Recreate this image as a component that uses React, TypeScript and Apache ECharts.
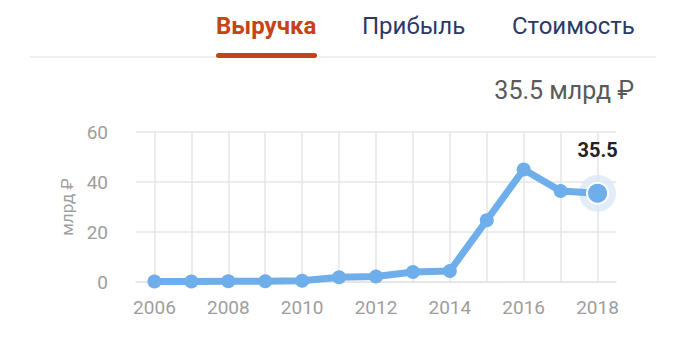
import React, { useEffect, useRef } from "react";
import * as echarts from "echarts";

const years = ["2006", "2007", "2008", "2009", "2010", "2011", "2012", "2013", "2014", "2015", "2016", "2017", "2018"];
const revenue = [0.2, 0.2, 0.3, 0.3, 0.5, 1.9, 2.2, 4.0, 4.4, 24.7, 45.0, 36.4, 35.5];
const tabs = ["Выручка", "Прибыль", "Стоимость"];
const yTicks = [0, 20, 40, 60];
const unit = "млрд ₽";

const FONT = "Roboto, 'Noto Sans', sans-serif";
const LINE_COLOR = "#6eaeea";

export default function App() {
  const ref = useRef<HTMLDivElement>(null);

  useEffect(() => {
    if (!ref.current) return;
    const chart = echarts.init(ref.current, null, { renderer: "svg" });
    const lastIdx = revenue.length - 1;
    const lastVal = revenue[lastIdx];

    chart.setOption({
      animation: false,
      backgroundColor: "#ffffff",
      textStyle: { fontFamily: FONT },
      grid: { left: 136, right: 64, top: 132, bottom: 76 },
      graphic: [
        {
          type: "text",
          left: 216,
          top: 14,
          style: { text: tabs[0], font: `bold 24px ${FONT}`, fill: "#c6421b" },
        },
        {
          type: "text",
          left: 362,
          top: 14,
          style: { text: tabs[1], font: `24px ${FONT}`, fill: "#2c3967" },
        },
        {
          type: "text",
          left: 512,
          top: 14,
          style: { text: tabs[2], font: `24px ${FONT}`, fill: "#2c3967" },
        },
        {
          type: "rect",
          shape: { x: 30, y: 56, width: 626, height: 2 },
          style: { fill: "#efefef" },
          z: 1,
        },
        {
          type: "rect",
          shape: { x: 216, y: 53, width: 101, height: 5, r: 2.5 },
          style: { fill: "#c6421b" },
          z: 2,
        },
        {
          type: "text",
          right: 46,
          top: 78,
          style: { text: `${lastVal} ${unit}`, font: `25px ${FONT}`, fill: "#5a5a5a" },
        },
      ],
      xAxis: {
        type: "category",
        data: years,
        boundaryGap: true,
        axisLine: { show: true, lineStyle: { color: "#e3e3e3", width: 1.5 } },
        axisTick: { show: false },
        axisLabel: {
          interval: 1,
          color: "#9e9e9e",
          fontSize: 19,
          fontFamily: FONT,
          margin: 16,
        },
        splitLine: {
          show: true,
          alignWithLabel: true,
          interval: 0,
          lineStyle: { color: "#e6e6e6", width: 1.5 },
        },
      },
      yAxis: {
        type: "value",
        min: yTicks[0],
        max: yTicks[yTicks.length - 1],
        interval: 20,
        name: unit,
        nameLocation: "middle",
        nameGap: 58,
        nameTextStyle: { color: "#9e9e9e", fontSize: 17, fontFamily: FONT },
        axisLine: { show: false },
        axisTick: { show: false },
        axisLabel: { color: "#9e9e9e", fontSize: 19, fontFamily: FONT, margin: 28 },
        splitLine: { show: true, lineStyle: { color: "#e6e6e6", width: 1.5 } },
      },
      series: [
        {
          type: "scatter",
          data: [[years[lastIdx], lastVal]],
          symbolSize: 37,
          itemStyle: { color: "#dce9f7" },
          z: 1,
          silent: true,
        },
        {
          type: "line",
          data: revenue.map((v, i) =>
            i === lastIdx
              ? {
                  value: v,
                  symbolSize: 21,
                  itemStyle: { color: LINE_COLOR, borderColor: "#ffffff", borderWidth: 2 },
                  label: {
                    show: true,
                    position: "top",
                    distance: 22,
                    formatter: String(v),
                    color: "#222222",
                    fontWeight: "bold",
                    fontSize: 20,
                    fontFamily: FONT,
                  },
                }
              : v
          ),
          symbol: "circle",
          symbolSize: 14,
          showAllSymbol: true,
          lineStyle: { color: LINE_COLOR, width: 7 },
          itemStyle: { color: LINE_COLOR },
          z: 3,
        },
      ],
    });

    return () => chart.dispose();
  }, []);

  return <div ref={ref} style={{ width: 680, height: 358, margin: -8 }} />;
}
